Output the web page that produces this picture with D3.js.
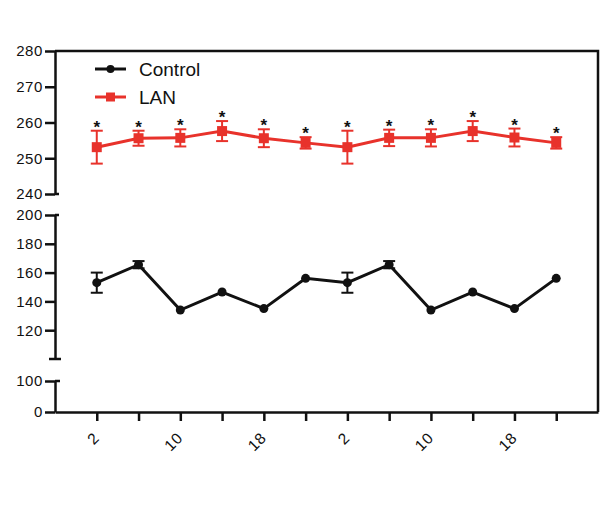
<!DOCTYPE html>
<html>
<head>
<meta charset="utf-8">
<script src="https://cdn.jsdelivr.net/npm/d3@7"></script>
<style>
  html, body { margin: 0; padding: 0; background: #fff; }
  svg { display: block; font-family: "Liberation Sans", Arial, Helvetica, sans-serif; }
</style>
</head>
<body>
<svg id="chart" width="601" height="525"></svg>
<script>
// ---- data ----
const points = [1, 2, 3, 4, 5, 6, 7, 8, 9, 10, 11, 12];
const xTickLabels = ["2", "", "10", "", "18", "", "2", "", "10", "", "18", ""];
const controlMean = [153, 165.5, 134, 146.5, 135, 156, 153, 165.5, 134, 146.5, 135, 156];
const controlErr  = [7, 2.5, 1, 1, 1, 1, 7, 2.5, 1, 1, 1, 1];
const lanMean = [253.1, 255.6, 255.7, 257.6, 255.6, 254.3, 253.1, 255.7, 255.7, 257.6, 255.8, 254.3];
const lanErr  = [4.6, 2.1, 2.4, 2.8, 2.5, 1.6, 4.6, 2.3, 2.4, 2.8, 2.5, 1.6];
const seriesNames = ["Control", "LAN"];
const topTicks = [240, 250, 260, 270, 280];
const midTicks = [120, 140, 160, 180, 200];
const lowTicks = [0, 100];

// ---- layout ----
const plotLeft = 55, plotRight = 598, plotTop = 51, plotBottom = 412;
const red = "#e8322b";
const svg = d3.select("#chart");

const x = d3.scaleLinear().domain([0, 13]).range([plotLeft, plotRight]);
const yTop = d3.scaleLinear().domain([240, 280]).range([194, plotTop]);
const yMid = d3.scaleLinear().domain([100, 200]).range([359, 215]);
const yLow = d3.scaleLinear().domain([0, 100]).range([plotBottom, 381]);
function y(v) { return v >= 220 ? yTop(v) : (v >= 100 ? yMid(v) : yLow(v)); }

// frame (top and right)
svg.append("path")
  .attr("d", `M${plotLeft},${plotTop}H${plotRight}V${plotBottom}`)
  .attr("fill", "none").attr("stroke", "#111").attr("stroke-width", 2.5);

// y axis segments
function yAxisSeg(scale, ticks) {
  const g = svg.append("g").attr("transform", `translate(${plotLeft},0)`)
    .call(d3.axisLeft(scale).tickValues(ticks).tickSize(10).tickSizeOuter(0).tickPadding(2));
  g.select(".domain").attr("stroke", "#111").attr("stroke-width", 2.5);
  g.selectAll(".tick line").attr("stroke", "#111").attr("stroke-width", 2.5);
  g.selectAll(".tick text").attr("fill", "#111")
    .style("font-size", "15px").style("letter-spacing", "0.6px");
  return g;
}
yAxisSeg(yTop, topTicks);
yAxisSeg(yMid, midTicks);
yAxisSeg(yLow, lowTicks);

// break caps
const caps = [
  [yTop(240), 0, 4], [yMid(200), 0, 4], [yMid(100), -6, 6], [yLow(100), 0, 5]
];
svg.append("g").selectAll("line").data(caps).join("line")
  .attr("x1", d => plotLeft + d[1]).attr("x2", d => plotLeft + d[2])
  .attr("y1", d => d[0]).attr("y2", d => d[0])
  .attr("stroke", "#111").attr("stroke-width", 2.5);

// x axis
const gx = svg.append("g").attr("transform", `translate(0,${plotBottom})`)
  .call(d3.axisBottom(x).tickValues(points).tickSize(9).tickSizeOuter(0)
    .tickFormat((d, i) => xTickLabels[i]));
gx.select(".domain").attr("stroke", "#111").attr("stroke-width", 2.5);
gx.selectAll(".tick line").attr("stroke", "#111").attr("stroke-width", 2.5);
gx.selectAll(".tick text")
  .attr("x", 0).attr("y", 0).attr("dy", 0)
  .attr("text-anchor", "end")
  .attr("transform", "translate(3,27) rotate(-45)")
  .attr("fill", "#111")
  .style("font-size", "15.5px").style("letter-spacing", "0.6px");

// series drawing
function drawSeries(mean, err, color, marker, half) {
  const g = svg.append("g");
  const line = d3.line().x((d, i) => x(points[i])).y(d => y(d));
  g.append("path").datum(mean).attr("d", line)
    .attr("fill", "none").attr("stroke", color).attr("stroke-width", 3);
  // error bars only where they extend beyond the marker
  const idx = mean.map((d, i) => i).filter(i => Math.abs(y(mean[i]) - y(mean[i] + err[i])) > half - 1);
  const eb = g.selectAll("g.eb").data(idx).join("g");
  eb.append("line")
    .attr("x1", i => x(points[i])).attr("x2", i => x(points[i]))
    .attr("y1", i => y(mean[i] + err[i])).attr("y2", i => y(mean[i] - err[i]))
    .attr("stroke", color).attr("stroke-width", 2);
  [1, -1].forEach(s => {
    eb.append("line")
      .attr("x1", i => x(points[i]) - 6).attr("x2", i => x(points[i]) + 6)
      .attr("y1", i => y(mean[i] + s * err[i])).attr("y2", i => y(mean[i] + s * err[i]))
      .attr("stroke", color).attr("stroke-width", 2);
  });
  if (marker === "circle") {
    g.selectAll("circle").data(mean).join("circle")
      .attr("cx", (d, i) => x(points[i])).attr("cy", d => y(d)).attr("r", half)
      .attr("fill", color);
  } else {
    g.selectAll("rect.m").data(mean).join("rect")
      .attr("x", (d, i) => x(points[i]) - half).attr("y", d => y(d) - half)
      .attr("width", 2 * half).attr("height", 2 * half).attr("fill", color);
  }
}
drawSeries(controlMean, controlErr, "#111", "circle", 4.5);
drawSeries(lanMean, lanErr, red, "square", 5);

// significance asterisks
svg.append("g").selectAll("text").data(lanMean).join("text")
  .attr("x", (d, i) => x(points[i]))
  .attr("y", (d, i) => y(d + lanErr[i]) - 7 + 9)
  .attr("text-anchor", "middle")
  .attr("fill", "#111")
  .style("font-size", "17px").style("font-weight", "bold")
  .text("*");

// legend
const legend = svg.append("g");
const legendY = [69, 97];
const legendColors = ["#111", red];
seriesNames.forEach((name, i) => {
  const ly = legendY[i];
  legend.append("line").attr("x1", 95).attr("x2", 126).attr("y1", ly).attr("y2", ly)
    .attr("stroke", legendColors[i]).attr("stroke-width", 3);
  if (i === 0) {
    legend.append("circle").attr("cx", 110.5).attr("cy", ly).attr("r", 4).attr("fill", legendColors[i]);
  } else {
    legend.append("rect").attr("x", 106).attr("y", ly - 4.5).attr("width", 9).attr("height", 9)
      .attr("fill", legendColors[i]);
  }
  legend.append("text").attr("x", 139).attr("y", ly + 7)
    .attr("fill", "#111").style("font-size", "19px").text(name);
});
</script>
</body>
</html>
